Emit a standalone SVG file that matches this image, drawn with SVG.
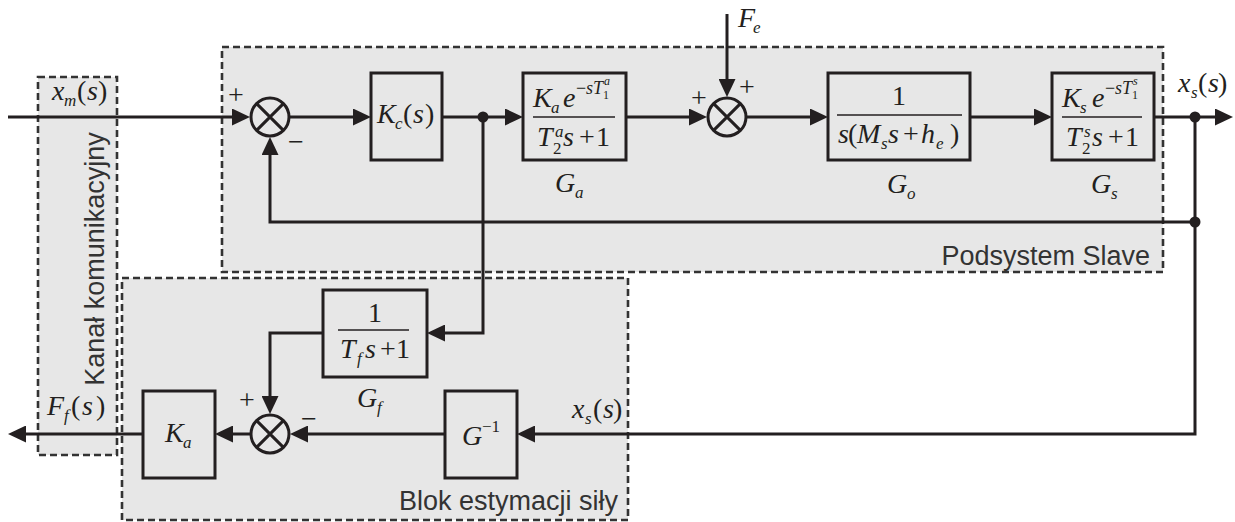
<svg xmlns="http://www.w3.org/2000/svg" width="1235" height="522" viewBox="0 0 1235 522">
<style>
.grp{fill:#e7e7e7;stroke:#333;stroke-width:2.6;stroke-dasharray:7,4}
.blk{fill:none;stroke:#231f20;stroke-width:3}
.ln{fill:none;stroke:#231f20;stroke-width:3;marker-end:url(#ar)}
.frac{stroke:#231f20;stroke-width:1.6}
.sum circle{fill:none;stroke:#231f20;stroke-width:3}
.sum path{stroke:#231f20;stroke-width:3}
.dot{fill:#231f20}
.m{font-family:"Liberation Serif","Times New Roman",serif;font-size:28px;font-style:italic;fill:#231f20}
.u{font-style:normal}
.sb{font-size:17px}
.ex{font-size:18px}
.ee{font-size:12px}
.lbl{font-family:"Liberation Sans",Arial,sans-serif;font-size:27px;fill:#333}
.sg{font-family:"Liberation Serif","Times New Roman",serif;font-size:28px;fill:#231f20;text-anchor:middle}
</style>
<defs>
<marker id="ar" markerWidth="18" markerHeight="17" refX="12" refY="8.5" orient="auto" markerUnits="userSpaceOnUse"><path d="M0,0 L18,8.5 L0,17 z" fill="#231f20"/></marker>
</defs>

<g id="kanal">
<rect class="grp" x="38" y="77" width="79" height="378"/>
<text class="lbl" text-anchor="middle" transform="translate(104,259) rotate(-90)">Kanał komunikacyjny</text>
</g>
<g id="slave">
<rect class="grp" x="222" y="47" width="941" height="225"/>
<text class="lbl" x="1150" y="265" text-anchor="end">Podsystem Slave</text>
</g>
<g id="estymacja">
<rect class="grp" x="122" y="278" width="506" height="242"/>
<text class="lbl" x="618" y="510" text-anchor="end">Blok estymacji siły</text>
</g>

<g id="connectors">
<path class="ln" d="M8,117 H244"/>
<path class="ln" d="M290,117 H365"/>
<path class="ln" d="M442,117 H517"/>
<path class="ln" d="M626,117 H701"/>
<path class="ln" d="M727,14 V91"/>
<path class="ln" d="M747,117 H822"/>
<path class="ln" d="M970,117 H1046"/>
<path class="ln" d="M1154,117 H1227"/>
<path class="ln" d="M1195,117 V434 H523"/>
<path class="ln" d="M1195,222 H270 V143"/>
<path class="ln" d="M483,117 V333 H433"/>
<path class="ln" d="M323,333 H270 V408"/>
<path class="ln" d="M445,434 H296"/>
<path class="ln" d="M250,434 H221"/>
<path class="ln" d="M143,434 H14"/>
<circle class="dot" cx="483" cy="117" r="5.5"/>
<circle class="dot" cx="1195" cy="117" r="5.5"/>
<circle class="dot" cx="1195" cy="222" r="5.5"/>
</g>

<g id="sum1" class="sum">
<circle cx="270" cy="117" r="19"/>
<path d="M256.6,103.6 L283.4,130.4 M283.4,103.6 L256.6,130.4"/>
<text class="sg" x="236" y="104">+</text>
<text class="sg" x="296" y="151">−</text>
</g>
<g id="sum2" class="sum">
<circle cx="727" cy="117" r="19"/>
<path d="M713.6,103.6 L740.4,130.4 M740.4,103.6 L713.6,130.4"/>
<text class="sg" x="699" y="107">+</text>
<text class="sg" x="747" y="96">+</text>
</g>
<g id="sum3" class="sum">
<circle cx="270" cy="434" r="19"/>
<path d="M256.6,420.6 L283.4,447.4 M283.4,420.6 L256.6,447.4"/>
<text class="sg" x="247" y="409">+</text>
<text class="sg" x="309" y="428">−</text>
</g>

<g id="xm">
<text class="m"><tspan x="52" y="100">x</tspan><tspan class="sb" x="64" y="106">m</tspan><tspan class="u" x="77" y="100">(</tspan><tspan x="87" y="100">s</tspan><tspan class="u" x="98" y="100">)</tspan></text>
</g>

<g id="Kc">
<rect class="blk" x="371" y="73" width="71" height="87"/>
<text class="m"><tspan x="377" y="123">K</tspan><tspan class="sb" x="395" y="129">c</tspan><tspan class="u" x="403" y="123">(</tspan><tspan x="413" y="123">s</tspan><tspan class="u" x="425" y="123">)</tspan></text>
</g>

<g id="Ga">
<rect class="blk" x="523" y="73" width="103" height="87"/>
<line class="frac" x1="533" y1="117" x2="615" y2="117"/>
<text class="m"><tspan x="533" y="107">K</tspan><tspan class="sb" x="551" y="113">a</tspan><tspan x="563" y="107">e</tspan><tspan class="ex u" x="576" y="94">−</tspan><tspan class="ex" x="586" y="94">s</tspan><tspan class="ex" x="593" y="94">T</tspan><tspan class="ee u" x="603" y="99">1</tspan><tspan class="ee" x="604" y="85">a</tspan></text>
<text class="m"><tspan x="537" y="146">T</tspan><tspan class="sb u" x="553" y="154">2</tspan><tspan class="sb" x="555" y="137">a</tspan><tspan x="563" y="146">s</tspan><tspan class="u" x="579" y="146">+</tspan><tspan class="u" x="596" y="146">1</tspan></text>
<text class="m"><tspan x="555" y="192">G</tspan><tspan class="sb" x="575" y="198">a</tspan></text>
</g>

<g id="Fe">
<text class="m"><tspan x="738" y="27">F</tspan><tspan class="sb" x="753" y="33">e</tspan></text>
</g>

<g id="Go">
<rect class="blk" x="828" y="73" width="142" height="87"/>
<line class="frac" x1="837" y1="115" x2="962" y2="115"/>
<text class="m u" x="899" y="105" text-anchor="middle">1</text>
<text class="m"><tspan x="838" y="143">s</tspan><tspan class="u" x="848" y="143">(</tspan><tspan x="857" y="143">M</tspan><tspan class="sb" x="881" y="149">s</tspan><tspan x="888" y="143">s</tspan><tspan class="u" x="903" y="143">+</tspan><tspan x="921" y="143">h</tspan><tspan class="sb" x="936" y="149">e</tspan><tspan class="u" x="950" y="143">)</tspan></text>
<text class="m"><tspan x="887" y="193">G</tspan><tspan class="sb" x="907" y="199">o</tspan></text>
</g>

<g id="Gs">
<rect class="blk" x="1052" y="73" width="102" height="87"/>
<line class="frac" x1="1062" y1="117" x2="1142" y2="117"/>
<text class="m"><tspan x="1062" y="107">K</tspan><tspan class="sb" x="1080" y="113">s</tspan><tspan x="1092" y="107">e</tspan><tspan class="ex u" x="1105" y="94">−</tspan><tspan class="ex" x="1115" y="94">s</tspan><tspan class="ex" x="1122" y="94">T</tspan><tspan class="ee u" x="1132" y="99">1</tspan><tspan class="ee" x="1133" y="85">s</tspan></text>
<text class="m"><tspan x="1066" y="146">T</tspan><tspan class="sb u" x="1082" y="154">2</tspan><tspan class="sb" x="1084" y="137">s</tspan><tspan x="1092" y="146">s</tspan><tspan class="u" x="1108" y="146">+</tspan><tspan class="u" x="1125" y="146">1</tspan></text>
<text class="m"><tspan x="1091" y="193">G</tspan><tspan class="sb" x="1111" y="199">s</tspan></text>
</g>

<g id="xs_out">
<text class="m"><tspan x="1178" y="92">x</tspan><tspan class="sb" x="1191" y="98">s</tspan><tspan class="u" x="1198" y="92">(</tspan><tspan x="1208" y="92">s</tspan><tspan class="u" x="1218" y="92">)</tspan></text>
</g>

<g id="Gf">
<rect class="blk" x="323" y="290" width="104" height="87"/>
<line class="frac" x1="338" y1="330" x2="409" y2="330"/>
<text class="m u" x="375" y="322" text-anchor="middle">1</text>
<text class="m"><tspan x="340" y="358">T</tspan><tspan class="sb" x="357" y="364">f</tspan><tspan x="365" y="358">s</tspan><tspan class="u" x="380" y="358">+</tspan><tspan class="u" x="396" y="358">1</tspan></text>
<text class="m"><tspan x="357" y="407">G</tspan><tspan class="sb" x="377" y="413">f</tspan></text>
</g>

<g id="Ginv">
<rect class="blk" x="445" y="391" width="72" height="87"/>
<text class="m"><tspan x="462" y="445">G</tspan><tspan class="sb u" x="482" y="432">−1</tspan></text>
</g>

<g id="xs_in">
<text class="m"><tspan x="572" y="418">x</tspan><tspan class="sb" x="585" y="424">s</tspan><tspan class="u" x="593" y="418">(</tspan><tspan x="603" y="418">s</tspan><tspan class="u" x="613" y="418">)</tspan></text>
</g>

<g id="Ka">
<rect class="blk" x="143" y="391" width="72" height="87"/>
<text class="m"><tspan x="165" y="442">K</tspan><tspan class="sb" x="183" y="448">a</tspan></text>
</g>

<g id="Ff">
<text class="m"><tspan x="47" y="415">F</tspan><tspan class="sb" x="64" y="421">f</tspan><tspan class="u" x="71" y="415">(</tspan><tspan x="82" y="415">s</tspan><tspan class="u" x="96" y="415">)</tspan></text>
</g>
</svg>
